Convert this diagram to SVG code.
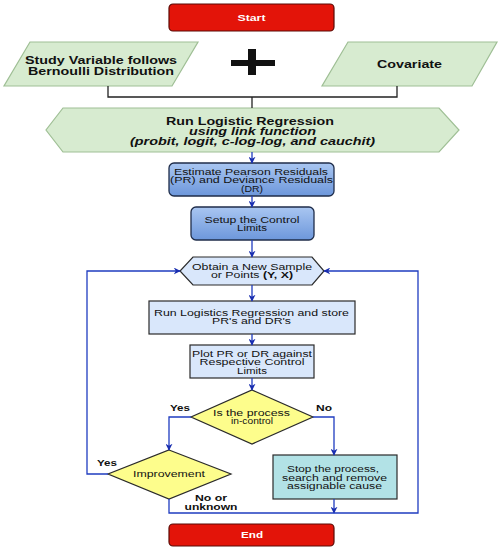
<svg xmlns="http://www.w3.org/2000/svg" width="501" height="550" viewBox="0 0 501 550">
<defs>
<linearGradient id="blueGrad" x1="0" y1="0" x2="0" y2="1">
<stop offset="0" stop-color="#a9c6f1"/>
<stop offset="1" stop-color="#6d97db"/>
</linearGradient>
<marker id="arr" viewBox="0 0 10 10" refX="9" refY="5" markerWidth="7" markerHeight="7" orient="auto" markerUnits="userSpaceOnUse">
<path d="M0,0 L10,5 L0,10 L3,5 Z" fill="#1a2fb0"/>
</marker>
</defs>
<style>
text{font-family:"Liberation Sans",Arial,sans-serif;text-anchor:middle;fill:#111}
.b{font-weight:bold}
.red{fill:#e31409;stroke:#5a0b06;stroke-width:1.2}
.wt{fill:#fff;font-weight:bold;font-size:9px}
.grn{fill:#d7ebd0;stroke:#9fbf95;stroke-width:1.2}
.blu{fill:url(#blueGrad);stroke:#1f2d4a;stroke-width:1.3}
.lb{fill:#d9e7fb;stroke:#2a2a2a;stroke-width:1.2}
.yel{fill:#fdfd8c;stroke:#2a2a2a;stroke-width:1.2}
.cyan{fill:#b2e2e6;stroke:#2a2a2a;stroke-width:1.2}
.c{fill:none;stroke:#1f3cc0;stroke-width:1.3}
.k{fill:none;stroke:#222;stroke-width:1.3}
.t{font-size:8.5px}
.lab{font-size:8.5px;font-weight:bold}
</style>

<g id="start">
<rect class="red" x="169" y="4" width="165" height="27" rx="4"/>
<text class="wt" x="251.5" y="20.5" textLength="28" lengthAdjust="spacingAndGlyphs">Start</text>
</g>

<g id="study">
<polygon class="grn" points="30,42 198,42 172,86 4,86"/>
<text class="b" font-size="10px" x="101" y="63.5" textLength="152" lengthAdjust="spacingAndGlyphs">Study Variable follows</text>
<text class="b" font-size="10px" x="101" y="74.5" textLength="146" lengthAdjust="spacingAndGlyphs">Bernoulli Distribution</text>
</g>

<g id="plus">
<rect x="231" y="60" width="44" height="6" fill="#111"/>
<rect x="248" y="49" width="8" height="26" fill="#111"/>
</g>

<g id="covariate">
<polygon class="grn" points="348,42 497,42 472,86 322,86"/>
<text class="b" font-size="10px" x="409.5" y="67.5" textLength="65" lengthAdjust="spacingAndGlyphs">Covariate</text>
</g>

<g id="runlogit">
<polygon class="grn" points="63,108 439,108 459,130 439,152 63,152 46,130"/>
<text class="b" font-size="10px" x="250" y="124.5" textLength="168" lengthAdjust="spacingAndGlyphs">Run Logistic Regression</text>
<text class="b" font-size="10px" font-style="italic" x="252.5" y="134.5" textLength="127" lengthAdjust="spacingAndGlyphs">using link function</text>
<text class="b" font-size="10px" font-style="italic" x="252.5" y="144.5" textLength="245" lengthAdjust="spacingAndGlyphs">(probit, logit, c-log-log, and cauchit)</text>
</g>

<g id="estimate">
<rect class="blu" x="169" y="163" width="165" height="33" rx="5"/>
<text class="t" x="251" y="174.5" textLength="154" lengthAdjust="spacingAndGlyphs">Estimate Pearson Residuals</text>
<text class="t" x="251.5" y="183" textLength="163" lengthAdjust="spacingAndGlyphs">(PR) and Deviance Residuals</text>
<text class="t" x="252" y="191.5" textLength="22" lengthAdjust="spacingAndGlyphs">(DR)</text>
</g>

<g id="setup">
<rect class="blu" x="191" y="207" width="123" height="33" rx="5"/>
<text class="t" x="252" y="222.5" textLength="95" lengthAdjust="spacingAndGlyphs">Setup the Control</text>
<text class="t" x="252" y="231" textLength="30" lengthAdjust="spacingAndGlyphs">Limits</text>
</g>

<g id="obtain">
<polygon class="lb" points="193,257 312,257 324,271 312,285 193,285 180,271"/>
<text class="t" x="252" y="269.5" textLength="120" lengthAdjust="spacingAndGlyphs">Obtain a New Sample</text>
<text class="t" x="252" y="278" textLength="82" lengthAdjust="spacingAndGlyphs">or Points <tspan font-weight="bold">(Y, X)</tspan></text>
</g>

<g id="runstore">
<rect class="lb" x="149" y="301" width="206" height="33"/>
<text class="t" x="251.5" y="315.5" textLength="195" lengthAdjust="spacingAndGlyphs">Run Logistics Regression and store</text>
<text class="t" x="251.5" y="324" textLength="79" lengthAdjust="spacingAndGlyphs">PR's and DR's</text>
</g>

<g id="plot">
<rect class="lb" x="190" y="345" width="124" height="33"/>
<text class="t" x="252" y="356.5" textLength="120" lengthAdjust="spacingAndGlyphs">Plot PR or DR against</text>
<text class="t" x="252" y="365" textLength="105" lengthAdjust="spacingAndGlyphs">Respective Control</text>
<text class="t" x="252" y="373.5" textLength="30" lengthAdjust="spacingAndGlyphs">Limits</text>
</g>

<g id="incontrol">
<polygon class="yel" points="252,390 313,417 252,444 191,417"/>
<text class="t" x="251.5" y="415.5" textLength="77" lengthAdjust="spacingAndGlyphs">Is the process</text>
<text class="t" x="252" y="424" textLength="42" lengthAdjust="spacingAndGlyphs">in-control</text>
</g>

<g id="improvement">
<polygon class="yel" points="169,450 231,474 169,499 108,474"/>
<text class="t" x="169" y="477" textLength="72" lengthAdjust="spacingAndGlyphs">Improvement</text>
</g>

<g id="stop">
<rect class="cyan" x="273" y="455" width="124" height="44"/>
<text class="t" x="333" y="472" textLength="92" lengthAdjust="spacingAndGlyphs">Stop the process,</text>
<text class="t" x="334.5" y="480.5" textLength="105" lengthAdjust="spacingAndGlyphs">search and remove</text>
<text class="t" x="334.5" y="489" textLength="95" lengthAdjust="spacingAndGlyphs">assignable cause</text>
</g>

<g id="end">
<rect class="red" x="169" y="524" width="165" height="22" rx="4"/>
<text class="wt" x="252" y="538" textLength="22" lengthAdjust="spacingAndGlyphs">End</text>
</g>

<g id="connectors">
<path class="k" d="M108,86 V97 H397 V86"/>
<path class="k" d="M252,97 V108"/>
<path class="c" d="M252,152 V163" marker-end="url(#arr)"/>
<path class="c" d="M252,196 V207" marker-end="url(#arr)"/>
<path class="c" d="M252,240 V257" marker-end="url(#arr)"/>
<path class="c" d="M252,285 V301" marker-end="url(#arr)"/>
<path class="c" d="M252,334 V345" marker-end="url(#arr)"/>
<path class="c" d="M252,378 V390" marker-end="url(#arr)"/>
<path class="c" d="M191,417 H169 V450" marker-end="url(#arr)"/>
<path class="c" d="M313,417 H334 V455" marker-end="url(#arr)"/>
<path class="c" d="M108,474 H87 V271 H180" marker-end="url(#arr)"/>
<path class="c" d="M334,499 V513" marker-end="url(#arr)"/>
<path class="c" d="M169,499 V513 H418 V271 H324" marker-end="url(#arr)"/>
</g>

<g id="labels">
<text class="lab" x="180" y="411" textLength="20" lengthAdjust="spacingAndGlyphs">Yes</text>
<text class="lab" x="324" y="411" textLength="16" lengthAdjust="spacingAndGlyphs">No</text>
<text class="lab" x="107" y="466" textLength="20" lengthAdjust="spacingAndGlyphs">Yes</text>
<text class="lab" x="211" y="501" textLength="32" lengthAdjust="spacingAndGlyphs">No or</text>
<text class="lab" x="211" y="510" textLength="53" lengthAdjust="spacingAndGlyphs">unknown</text>
</g>
</svg>
